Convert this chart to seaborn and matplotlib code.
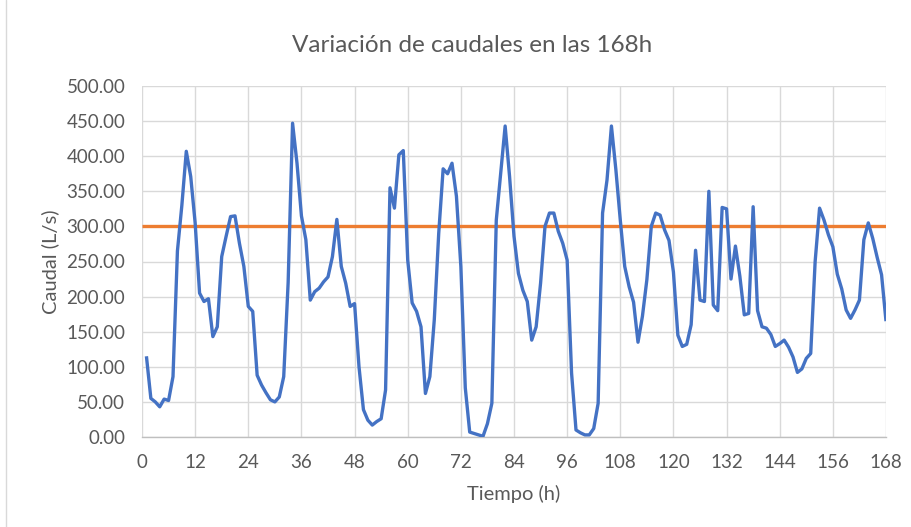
import matplotlib
matplotlib.use("Agg")
import matplotlib.pyplot as plt
import seaborn as sns
import pandas as pd
from matplotlib.lines import Line2D
from matplotlib.ticker import FormatStrFormatter

hours = list(range(1, 169))
caudal = [
    115, 55, 50, 43, 54, 52, 86, 265, 330, 407,
    371, 305, 205, 193, 197, 143, 157, 257, 286, 314,
    315, 276, 243, 186, 179, 88, 74, 63, 53, 50,
    57, 86, 220, 447, 390, 315, 281, 195, 207, 212,
    221, 228, 257, 310, 243, 219, 186, 190, 100, 39,
    24, 17, 22, 26, 67, 355, 326, 402, 408, 252,
    191, 179, 157, 62, 86, 167, 290, 382, 375, 390,
    343, 243, 70, 7, 5, 3, 1, 19, 48, 309,
    376, 443, 371, 286, 233, 209, 193, 138, 157, 219,
    300, 319, 319, 293, 276, 252, 91, 10, 6, 3,
    3, 12, 48, 319, 366, 443, 381, 309, 243, 214,
    192, 135, 172, 224, 300, 319, 316, 295, 280, 235,
    145, 129, 132, 160, 266, 195, 193, 350, 188, 180,
    327, 325, 225, 272, 229, 174, 176, 328, 180, 157,
    155, 146, 129, 133, 138, 128, 114, 92, 97, 112,
    119, 250, 326, 309, 288, 271, 232, 211, 181, 169,
    181, 195, 281, 305, 283, 256, 231, 165,
]
limite_hours = [0, 168]
limite_value = [300, 300]

x_ticks = list(range(0, 169, 12))
y_ticks = list(range(0, 501, 50))

title = "Variación de caudales en las 168h"
xlabel = "Tiempo (h)"
ylabel = "Caudal (L/s)"

sns.set_theme(style="white")
plt.rcParams['font.family'] = ['Lato', 'DejaVu Sans']

fig = plt.figure(figsize=(9.12, 5.27), dpi=100)
ax = fig.add_axes([142/912, 1 - 437/527, (886-142)/912, (437-86)/527])

df = pd.DataFrame({"hora": hours, "caudal": caudal})
df_lim = pd.DataFrame({"hora": limite_hours, "caudal": limite_value})

sns.lineplot(data=df, x="hora", y="caudal", ax=ax, color="#4472C4",
             linewidth=2.4, zorder=3)
sns.lineplot(data=df_lim, x="hora", y="caudal", ax=ax, color="#ED7D31",
             linewidth=2.4, zorder=2)
for ln in ax.lines:
    ln.set_solid_joinstyle("round")
    ln.set_solid_capstyle("butt")

ax.set_xlim(0, 168)
ax.set_ylim(0, 500)
ax.set_xticks(x_ticks)
ax.set_yticks(y_ticks)
ax.yaxis.set_major_formatter(FormatStrFormatter("%.2f"))
ax.grid(True, color="#d9d9d9", linewidth=1.0)
ax.set_axisbelow(True)
for s in ["top", "right", "left"]:
    ax.spines[s].set_visible(False)
ax.spines["bottom"].set_color("#bfbfbf")
ax.spines["bottom"].set_linewidth(1.0)
ax.tick_params(axis="both", length=0, labelsize=13.5, labelcolor="#595959")
ax.tick_params(axis="y", pad=12)
ax.tick_params(axis="x", pad=12)

ax.set_xlabel(xlabel, fontsize=14.5, color="#595959")
ax.set_ylabel(ylabel, fontsize=14.5, color="#595959")
ax.xaxis.set_label_coords(0.5, (437 - 494) / 351)
ax.xaxis.label.set_verticalalignment("center")
ax.yaxis.set_label_coords((50 - 142) / 744, 0.5)
ax.yaxis.label.set_verticalalignment("center")

fig.text(472/912, 1 - 45/527, title, ha="center", va="center",
         fontsize=17.5, color="#595959")

fig.add_artist(Line2D([6/912, 6/912], [0, 1], color="#d9d9d9", linewidth=1.0))

fig.savefig("out.png", dpi=100, facecolor="white")
